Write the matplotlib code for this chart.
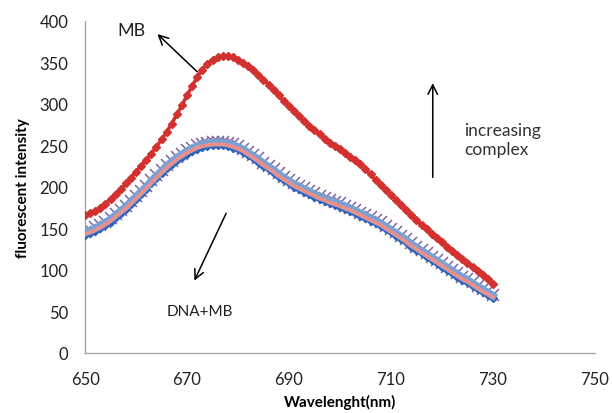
import matplotlib
matplotlib.use("Agg")
import matplotlib.pyplot as plt

plt.rcParams['font.family'] = ['Lato', 'DejaVu Sans']

wavelength = list(range(650, 731))

# MB alone
mb = [166, 168, 171, 175, 179, 185, 191, 197, 204, 211,
      218, 225, 232, 240, 248, 257, 266, 276, 287, 298,
      310, 321, 332, 341, 348, 353, 356, 357, 357, 356,
      353, 349, 345, 340, 335, 329, 323, 316, 310, 303,
      297, 291, 285, 279, 273, 268, 263, 258, 253, 249,
      245, 241, 236, 232, 227, 221, 215, 208, 202, 196,
      190, 184, 178, 172, 166, 160, 154, 149, 143, 138,
      133, 128, 123, 118, 113, 108, 104, 99, 94, 89, 83]

# DNA + MB, increasing complex
dna_mb_1 = [142, 144, 147, 150, 154, 158, 163, 168, 173, 179,
            185, 191, 197, 204, 210, 216, 222, 227, 232, 236,
            240, 243, 246, 248, 249, 250, 250, 250, 249, 247,
            245, 242, 238, 234, 230, 225, 221, 217, 212, 208,
            204, 200, 197, 194, 191, 188, 185, 183, 180, 178,
            176, 173, 171, 168, 165, 162, 159, 156, 153, 149,
            145, 141, 137, 133, 128, 124, 120, 116, 112, 108,
            104, 100, 96, 92, 88, 85, 81, 77, 73, 70, 66]
dna_mb_2 = [145, 147, 150, 153, 157, 161, 166, 171, 176, 182,
            188, 194, 200, 207, 213, 219, 225, 230, 235, 239,
            243, 246, 249, 251, 252, 253, 253, 253, 252, 250,
            248, 245, 241, 237, 233, 228, 224, 220, 215, 211,
            207, 203, 200, 197, 194, 191, 188, 186, 183, 181,
            179, 176, 174, 171, 168, 165, 162, 159, 156, 152,
            148, 144, 140, 136, 131, 127, 123, 119, 115, 111,
            107, 103, 99, 95, 91, 88, 84, 80, 76, 73, 69]
dna_mb_3 = [143, 145, 148, 151, 155, 159, 164, 169, 174, 180,
            186, 192, 198, 205, 211, 217, 223, 228, 233, 237,
            241, 244, 247, 249, 250, 251, 251, 251, 250, 248,
            246, 243, 239, 235, 231, 226, 222, 218, 213, 209,
            205, 201, 198, 195, 192, 189, 186, 184, 181, 179,
            177, 174, 172, 169, 166, 163, 160, 157, 154, 150,
            146, 142, 138, 134, 129, 125, 121, 117, 113, 109,
            105, 101, 97, 93, 89, 86, 82, 78, 74, 71, 67]
dna_mb_4 = [146, 148, 151, 154, 158, 162, 167, 172, 177, 183,
            189, 195, 201, 208, 214, 220, 226, 231, 236, 240,
            244, 247, 250, 252, 253, 254, 254, 254, 253, 251,
            249, 246, 242, 238, 234, 229, 225, 221, 216, 212,
            208, 204, 201, 198, 195, 192, 189, 187, 184, 182,
            180, 177, 175, 172, 169, 166, 163, 160, 157, 153,
            149, 145, 141, 137, 132, 128, 124, 120, 116, 112,
            108, 104, 100, 96, 92, 89, 85, 81, 77, 74, 70]

x_ticks = [650, 670, 690, 710, 730, 750]
y_ticks = [0, 50, 100, 150, 200, 250, 300, 350, 400]

fig = plt.figure(figsize=(6.12, 4.14), dpi=100)
ax = fig.add_axes([0.139, 0.145, 0.833, 0.803])

ax.plot(wavelength, dna_mb_4, color='#8064A2', lw=0, marker='x',
        markersize=8.5, mew=1.1, zorder=2)
ax.plot(wavelength, dna_mb_1, color='#2F62B8', lw=1.5, marker='D',
        markersize=3.8, zorder=3)
ax.plot(wavelength, dna_mb_2, color='#78A2D6', lw=5.5, zorder=4)
ax.plot(wavelength, dna_mb_3, color='#EE8E88', lw=2.6, zorder=5)
ax.plot(wavelength, mb, color='#D2312F', lw=2.6, marker='D',
        markersize=3.6, zorder=6)

ax.set_xlim(650, 750)
ax.set_ylim(0, 400)
ax.set_xticks(x_ticks)
ax.set_yticks(y_ticks)
ax.tick_params(length=0, labelsize=12, colors='#222222')
ax.tick_params(axis='x', pad=13)
ax.tick_params(axis='y', pad=12)
for side in ('top', 'right'):
    ax.spines[side].set_visible(False)
for side in ('left', 'bottom'):
    ax.spines[side].set_color('#A6A6A6')
    ax.spines[side].set_linewidth(1.0)

ax.set_xlabel('Wavelenght(nm)', fontsize=11, fontweight='bold', labelpad=5)
ax.set_ylabel('fluorescent intensity', fontsize=11, fontweight='bold', labelpad=7)

arrow = dict(arrowstyle='->', color='black', lw=1.1, mutation_scale=17)
ax.annotate('', xy=(663.8, 386), xytext=(672.4, 336), arrowprops=arrow)
ax.text(659.0, 389, 'MB', fontsize=13, ha='center', va='center', color='#222222')

ax.annotate('', xy=(718.2, 328), xytext=(718.2, 208), arrowprops=arrow)
ax.text(724.3, 257, 'increasing\ncomplex', fontsize=12.5, ha='left',
        va='center', color='#333333', linespacing=1.25)

ax.annotate('', xy=(671.2, 84), xytext=(677.9, 171), arrowprops=arrow)
ax.text(672.6, 50, 'DNA+MB', fontsize=11, ha='center', va='center',
        color='#222222')

fig.savefig('out.png', dpi=100)
